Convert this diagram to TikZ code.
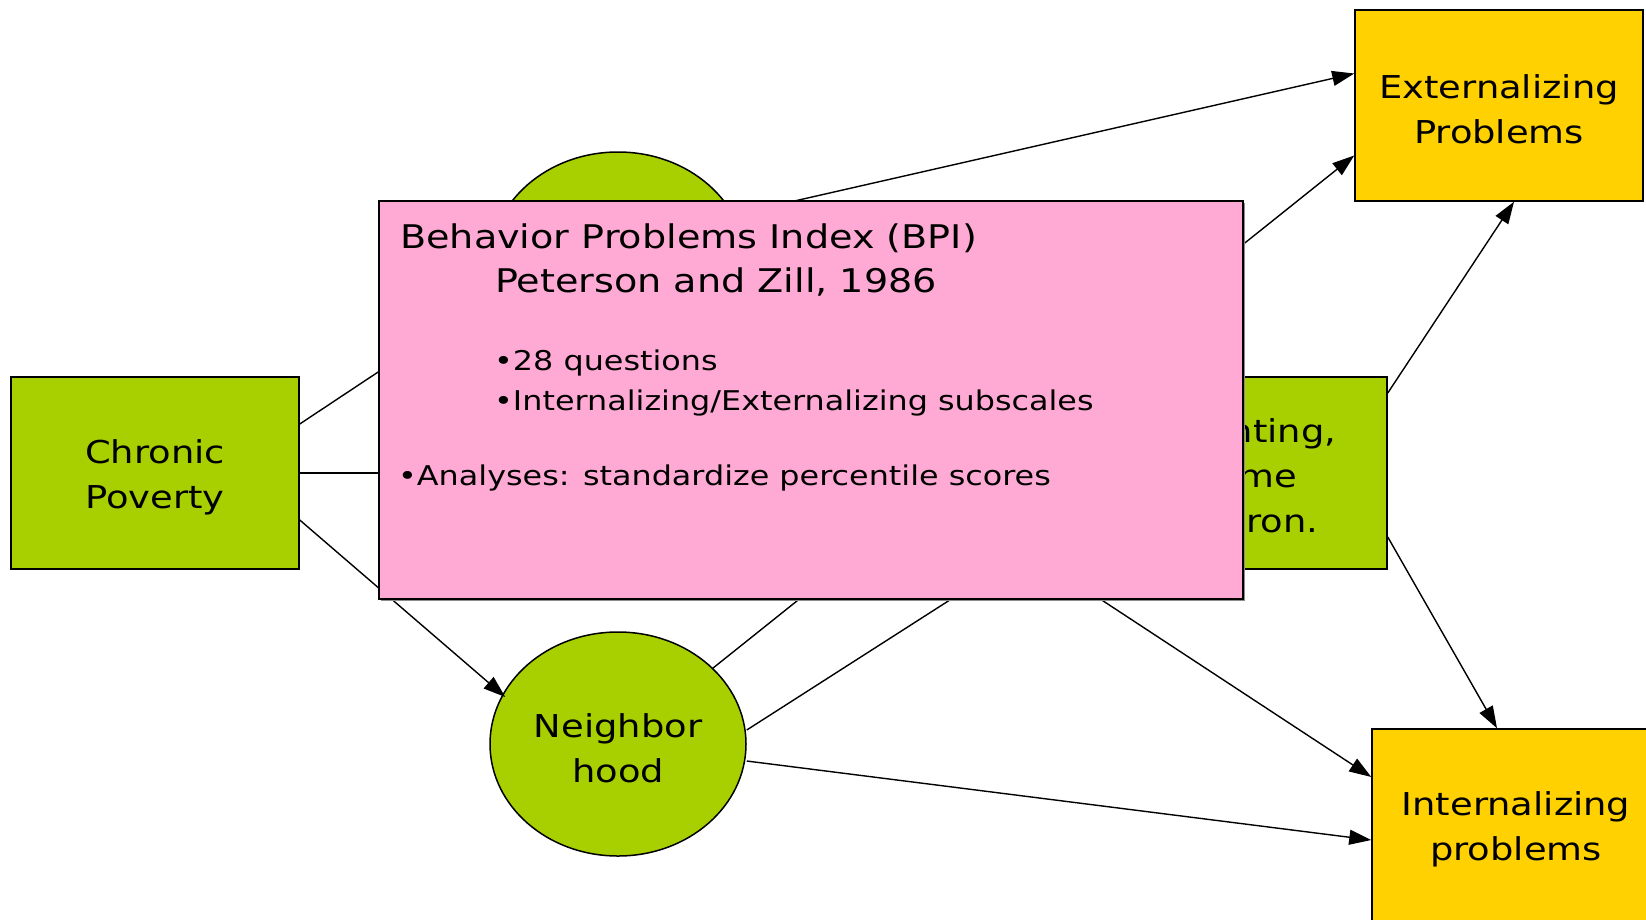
\documentclass[tikz,border=0pt]{standalone}
\usepackage{fontspec}
\setmainfont{DejaVu Sans}[FakeStretch=1.17]
\usetikzlibrary{arrows.meta,shapes.geometric}
\definecolor{limeg}{HTML}{A8D000}
\definecolor{goldy}{HTML}{FFD100}
\definecolor{pinkbox}{HTML}{FFAAD4}
\newcommand{\dn}{\rule{0pt}{32pt}}
\tikzset{
  box/.style={draw=black, line width=1.5pt, rectangle, minimum width=288pt, minimum height=192pt, inner sep=0pt, align=center, font=\fontsize{31.5}{45}\selectfont},
  greenbox/.style={box, fill=limeg},
  goldbox/.style={box, fill=goldy},
  oval/.style={draw=black, line width=1.5pt, ellipse, fill=limeg, minimum width=256pt, minimum height=224pt, inner sep=0pt, align=center, font=\fontsize{31.5}{45}\selectfont},
  conn/.style={line width=1.4pt, -{Triangle[length=22pt,width=15pt]}},
  pinktxt/.style={anchor=base west, inner sep=0pt},
  titletxt/.style={pinktxt, font=\fontsize{32.6}{45}\selectfont},
  bullettxt/.style={pinktxt, font=\fontsize{27.2}{40}\selectfont}
}
\begin{document}
\begin{tikzpicture}[x=1pt,y=-1pt]
\useasboundingbox (0,0) rectangle (1646,919);
\clip (0,0) rectangle (1646,919);
% shapes
\node[greenbox] (cp) at (155,473) {\dn Chronic\\Poverty};
\node[oval] (topE) at (618,264) {};
\node[oval] (nb) at (618,744) {\dn Neighbor\\hood};
\node[greenbox] (par) at (1243,473) {\rule{0pt}{30pt}Parenting,\\Home\\Environ.};
\node[goldbox, minimum height=191pt] (ext) at (1499,105.5) {\dn Externalizing\\Problems};
\node[goldbox] (int) at (1516,825) {\dn Internalizing\\problems};
% connectors
\draw[conn] ([yshift=49pt]cp.east) -- ([xshift=5pt,yshift=-31pt]topE.west);
\draw[conn] (cp.east) -- (par.west);
\draw[conn] ([yshift=-47pt]cp.east) -- ([xshift=16pt,yshift=47pt]nb.west);
\draw[conn] ([xshift=115pt,yshift=49pt]topE.center) -- ([yshift=32pt]ext.west);
\draw[conn] ([yshift=80pt]par.east) -- ([xshift=15pt]ext.south);
\draw[conn] ([xshift=-28pt]topE.center) -- ([yshift=48pt]int.west);
\draw[conn] (nb) -- ([yshift=-50pt]ext.west);
\draw[conn] ([yshift=14pt]nb.east) -- ([yshift=-32pt]par.west);
\draw[conn] ([yshift=-17pt]nb.east) -- ([yshift=-15pt]int.west);
\draw[conn] ([yshift=-64pt]par.east) -- ([xshift=-19pt]int.north);
% pink overlay box
\fill[black!45] (381,203) rectangle (1245,601);
\node[draw=black, line width=1.5pt, fill=pinkbox, rectangle, minimum width=864pt, minimum height=398pt, inner sep=0pt] (bpi) at (811,400) {};
\node[titletxt] (t1) at (400,248) {Behavior Problems Index (BPI)};
\node[titletxt] (t2) at (495,292) {Peterson and Zill, 1986};
\node[bullettxt] (b1) at (494,370) {•28 questions};
\node[bullettxt] (b2) at (494,410) {•Internalizing/Externalizing subscales};
\node[bullettxt] (b3) at (398,485) {•Analyses: standardize percentile scores};
\end{tikzpicture}
\end{document}
